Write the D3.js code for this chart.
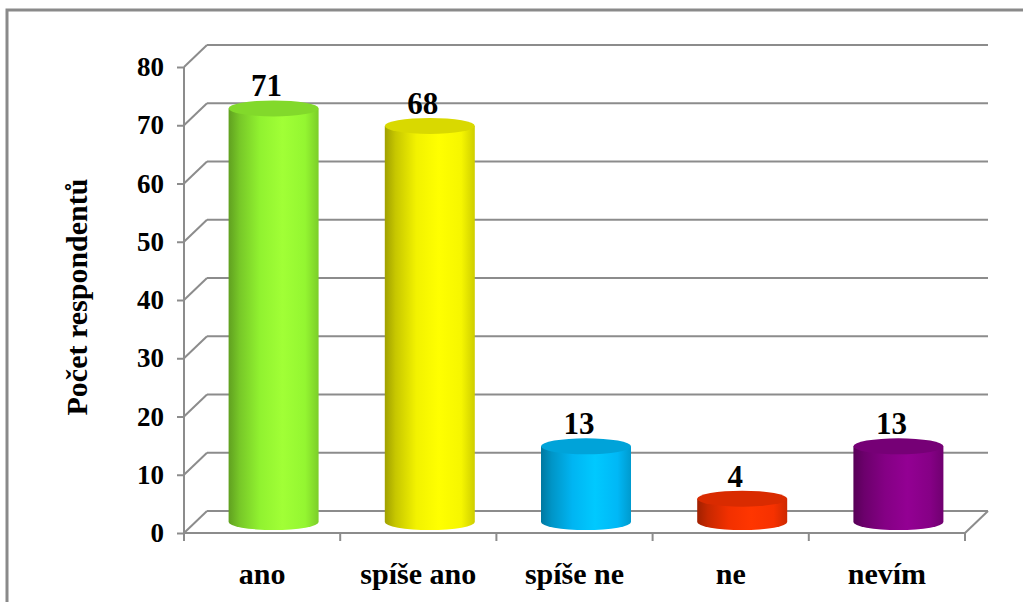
<!DOCTYPE html>
<html>
<head>
<meta charset="utf-8">
<script src="https://cdnjs.cloudflare.com/ajax/libs/d3/7.8.5/d3.min.js"></script>
<style>
  body { margin: 0; background: #fff; }
  text { font-family: "Liberation Serif", "Times New Roman", serif; font-weight: bold; fill: #000; }
</style>
</head>
<body>
<div id="chart"></div>
<script>
var categories = ["ano", "spíše ano", "spíše ne", "ne", "nevím"];
var values = [71, 68, 13, 4, 13];
var yTicks = [0, 10, 20, 30, 40, 50, 60, 70, 80];
var yTitle = "Počet respondentů";
var barColors = ["#99ff33", "#ffff00", "#00bfff", "#ff3300", "#8b008b"];

var width = 1023, height = 602;
var depthX = 23, depthY = -22;   // 3d offset of the back wall
var serif = "'Liberation Serif', 'Times New Roman', serif";

var svg = d3.select("#chart").append("svg")
    .attr("width", width)
    .attr("height", height);

// outer frame (runs off the picture on the right and bottom)
svg.append("rect")
    .attr("x", 7).attr("y", 10)
    .attr("width", 1100).attr("height", 700)
    .attr("fill", "#fff")
    .attr("stroke", "#8a8a8a")
    .attr("stroke-width", 3);

var x = d3.scaleBand().domain(categories).range([184, 965]);
var y = d3.scaleLinear().domain([0, 80]).range([533, 67]);

var grid = svg.append("g")
    .attr("stroke", "#8c8c8c")
    .attr("stroke-width", 2)
    .attr("fill", "none");

// back wall gridlines
grid.selectAll(".back")
    .data(yTicks)
  .enter().append("line")
    .attr("x1", x.range()[0] + depthX)
    .attr("x2", x.range()[1] + depthX)
    .attr("y1", function(d) { return y(d) + depthY; })
    .attr("y2", function(d) { return y(d) + depthY; });

// left side wall gridlines
grid.selectAll(".side")
    .data(yTicks)
  .enter().append("line")
    .attr("x1", x.range()[0])
    .attr("x2", x.range()[0] + depthX)
    .attr("y1", function(d) { return y(d); })
    .attr("y2", function(d) { return y(d) + depthY; });

// floor right edge
grid.append("line")
    .attr("x1", x.range()[1]).attr("y1", y(0))
    .attr("x2", x.range()[1] + depthX).attr("y2", y(0) + depthY);

// y axis
var yAxis = d3.axisLeft(y).tickValues(yTicks).tickSize(7).tickPadding(13);
var yg = svg.append("g")
    .attr("transform", "translate(" + x.range()[0] + ",0)")
    .call(yAxis);
yg.attr("font-family", serif);
yg.select(".domain").attr("stroke", "#8c8c8c").attr("stroke-width", 2).attr("d", "M0," + y(80) + "V" + y(0));
yg.selectAll(".tick line").attr("stroke", "#8c8c8c").attr("stroke-width", 2);
yg.selectAll(".tick text")
    .style("font-family", serif)
    .style("font-weight", "bold")
    .style("font-size", "27px")
    .attr("fill", "#000");

// x axis
var xAxis = d3.axisBottom(x).tickSize(0).tickPadding(30);
var xg = svg.append("g")
    .attr("transform", "translate(0," + y(0) + ")")
    .call(xAxis);
xg.attr("font-family", serif);
xg.select(".domain").attr("stroke", "#8c8c8c").attr("stroke-width", 2).attr("d", "M" + x.range()[0] + ",0H" + x.range()[1]);
xg.selectAll(".tick text")
    .style("font-family", serif)
    .style("font-weight", "bold")
    .style("font-size", "30px")
    .attr("fill", "#000");

// category separator ticks
var sepData = categories.map(function(c) { return x(c); }).concat([x.range()[1]]);
svg.append("g").selectAll("line")
    .data(sepData)
  .enter().append("line")
    .attr("x1", function(d) { return d; })
    .attr("x2", function(d) { return d; })
    .attr("y1", y(0))
    .attr("y2", y(0) + 8)
    .attr("stroke", "#8c8c8c")
    .attr("stroke-width", 2);

// y title
svg.append("text")
    .attr("transform", "translate(87," + 297 + ") rotate(-90)")
    .attr("text-anchor", "middle")
    .style("font-size", "30px")
    .text(yTitle);

// gradients for cylinders
var defs = svg.append("defs");
barColors.forEach(function(c, i) {
    var base = d3.color(c);
    var g = defs.append("linearGradient")
        .attr("id", "cyl" + i)
        .attr("x1", "0%").attr("x2", "100%")
        .attr("y1", "0%").attr("y2", "0%");
    var stops = [[0, base.darker(1.3)], [0.12, base.darker(0.7)], [0.35, base.darker(0.15)],
                 [0.6, base.brighter(0.15)], [0.85, base.darker(0.1)], [1, base.darker(0.6)]];
    stops.forEach(function(s) {
        g.append("stop").attr("offset", s[0]).attr("stop-color", s[1].formatHex());
    });
});

var rx = 45, ry = 8;
var cx = function(d, i) { return x(categories[i]) + x.bandwidth() / 2 + depthX / 2; };
var baseY = y(0) + depthY / 2;
var topY = function(d) { return y(d) + depthY / 2; };

var bars = svg.append("g").selectAll("g")
    .data(values)
  .enter().append("g");

bars.append("path")
    .attr("fill", function(d, i) { return "url(#cyl" + i + ")"; })
    .attr("d", function(d, i) {
        var c = cx(d, i), t = topY(d);
        return "M" + (c - rx) + "," + t +
               "V" + baseY +
               "A" + rx + "," + ry + " 0 0 0 " + (c + rx) + "," + baseY +
               "V" + t + "Z";
    });

bars.append("ellipse")
    .attr("cx", cx)
    .attr("cy", topY)
    .attr("rx", rx)
    .attr("ry", ry)
    .attr("fill", function(d, i) { return d3.color(barColors[i]).darker(0.45).formatHex(); });

bars.append("text")
    .attr("x", function(d, i) { return cx(d, i) - 7; })
    .attr("y", function(d) { return topY(d) - ry - 4; })
    .attr("text-anchor", "middle")
    .style("font-size", "31px")
    .text(function(d) { return d; });
</script>
</body>
</html>
